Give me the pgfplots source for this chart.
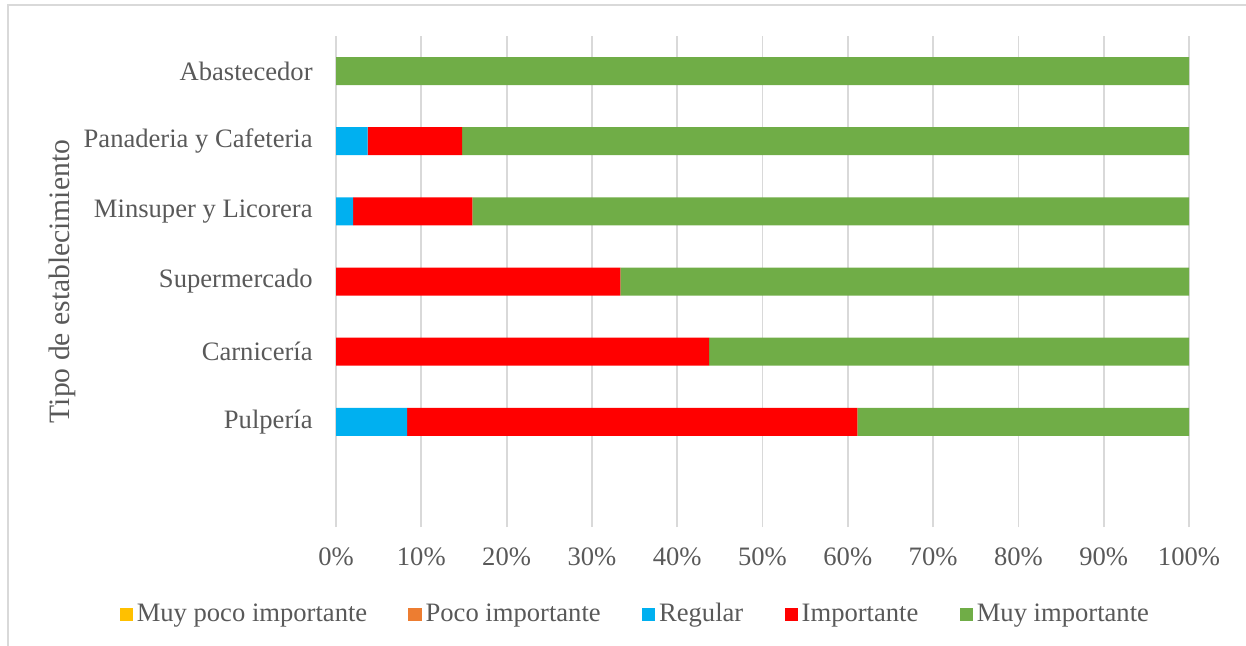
\documentclass[border=0pt]{standalone}
\usepackage{fontspec}
\setmainfont{Liberation Serif}
\usepackage{pgfplots}
\pgfplotsset{compat=1.18}
\definecolor{cyel}{HTML}{FFC000}
\definecolor{cora}{HTML}{ED7D31}
\definecolor{cblu}{HTML}{00B0F0}
\definecolor{cred}{HTML}{FF0000}
\definecolor{cgrn}{HTML}{70AD47}
\definecolor{cgrid}{HTML}{D9D9D9}
\definecolor{ctxt}{HTML}{595959}
\begin{document}
\begin{tikzpicture}[x=1pt,y=1pt]
\path[use as bounding box] (0,0) rectangle (623,322.5);
\draw[color=cgrid, line width=0.75pt] (4,-2) -- (4,320) -- (630,320);
\begin{axis}[
  at={(168pt,59pt)}, anchor=south west,
  scale only axis, width=426.5pt, height=245.5pt,
  xbar stacked, bar width=14pt,
  xmin=0, xmax=100, ymin=-0.5, ymax=6.5,
  xtick={0,10,...,100},
  xticklabels={0\%,10\%,20\%,30\%,40\%,50\%,60\%,70\%,80\%,90\%,100\%},
  ytick={1,...,6},
  yticklabels={Pulpería,Carnicería,Supermercado,Minsuper y Licorera,Panaderia y Cafeteria,Abastecedor},
  xmajorgrids, major grid style={color=cgrid, line width=0.9pt},
  axis line style={draw=none}, tick style={draw=none},
  ticklabel style={font=\fontsize{13.3}{16}\selectfont, text=ctxt},
  xticklabel style={anchor=center, yshift=-15pt},
  yticklabel style={anchor=east, inner sep=0pt, xshift=-11.5pt},
  ylabel={Tipo de establecimiento},
  ylabel style={at={(axis description cs:-0.3212,0.5)}, anchor=center, font=\fontsize{14.8}{17}\selectfont, text=ctxt},
  legend columns=5,
  legend style={at={(0.352,-0.183)}, anchor=center, draw=none, fill=none,
    font=\fontsize{13.3}{16}\selectfont, text=ctxt,
    nodes={text depth=0.25em, text height=0.7em},
    /tikz/every even column/.append style={column sep=18.6pt},
    inner sep=0pt},
  legend image code/.code={\path[#1] (0pt,-2.2pt) rectangle (6.6pt,4.4pt);},
]
\addplot[fill=cyel, draw=none] coordinates {(0,1) (0,2) (0,3) (0,4) (0,5) (0,6)};
\addplot[fill=cora, draw=none] coordinates {(0,1) (0,2) (0,3) (0,4) (0,5) (0,6)};
\addplot[fill=cblu, draw=none] coordinates {(8.33,1) (0,2) (0,3) (2.0,4) (3.7,5) (0,6)};
\addplot[fill=cred, draw=none] coordinates {(52.78,1) (43.75,2) (33.33,3) (14.0,4) (11.1,5) (0,6)};
\addplot[fill=cgrn, draw=none] coordinates {(38.89,1) (56.25,2) (66.67,3) (84.0,4) (85.2,5) (100,6)};
\legend{Muy poco importante, Poco importante, Regular, Importante, Muy importante}
\end{axis}
\end{tikzpicture}
\end{document}
